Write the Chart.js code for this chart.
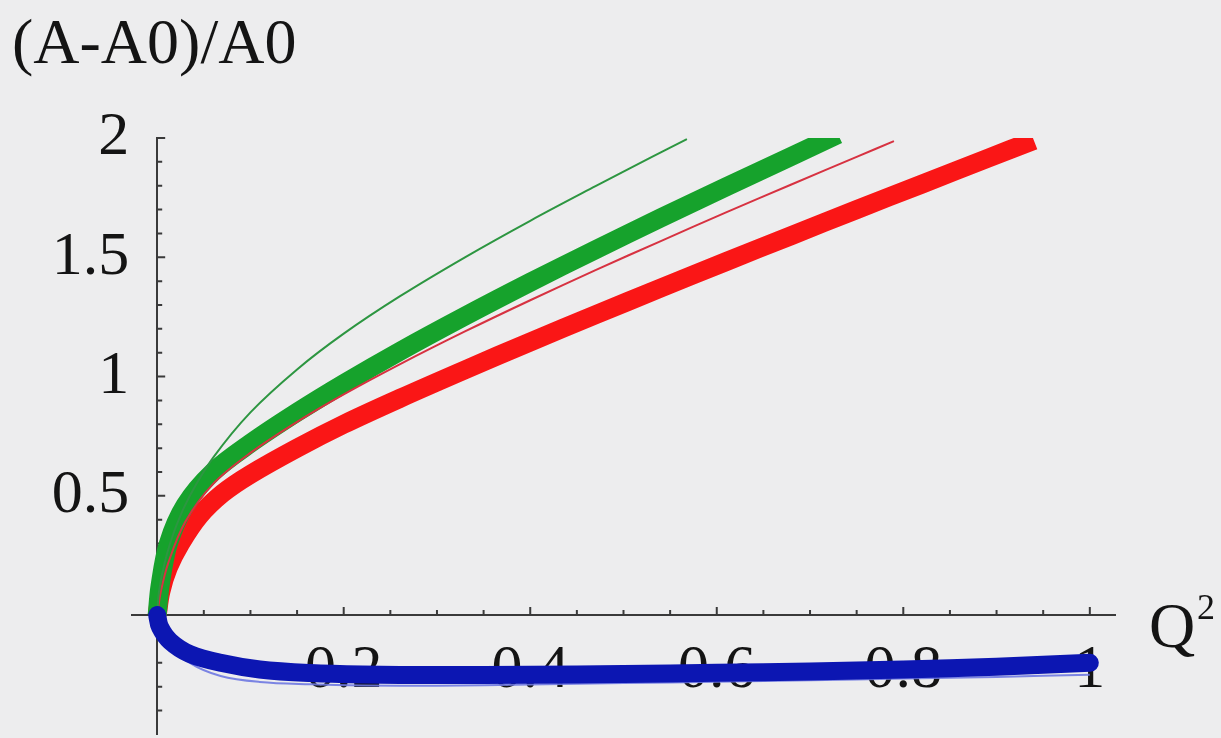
<!DOCTYPE html>
<html>
<head>
<meta charset="utf-8">
<script src="https://cdn.jsdelivr.net/npm/chart.js@4"></script>
<style>
  html, body { margin: 0; padding: 0; background: #ededee; overflow: hidden; }
  #wrap { width: 1221px; height: 738px; }
</style>
</head>
<body>
<div id="wrap"><canvas id="chart" width="1221" height="738"></canvas></div>
<script>
// curves as [Q^2, (A-A0)/A0]
const greenThin = [[0,0],[0.002,0.1],[0.008,0.22],[0.02,0.37],[0.035,0.5],[0.06,0.66],[0.1,0.85],[0.15,1.03],[0.2,1.18],[0.26,1.336],[0.33,1.5],[0.4,1.653],[0.47,1.798],[0.53,1.92],[0.568,1.995]];
const greenThick = [[0,0],[0.003,0.12],[0.012,0.3],[0.03,0.46],[0.06,0.6],[0.1,0.72],[0.15,0.85],[0.2,0.97],[0.26,1.105],[0.33,1.253],[0.4,1.395],[0.47,1.532],[0.54,1.665],[0.61,1.795],[0.68,1.923],[0.73,2.015]];
const redThin = [[0,0],[0.004,0.1],[0.012,0.22],[0.03,0.39],[0.06,0.55],[0.1,0.68],[0.15,0.81],[0.2,0.925],[0.26,1.051],[0.33,1.189],[0.4,1.32],[0.47,1.446],[0.54,1.568],[0.61,1.688],[0.68,1.805],[0.75,1.921],[0.79,1.987]];
const redThick = [[0,0],[0.004,0.1],[0.012,0.2],[0.025,0.3],[0.045,0.415],[0.07,0.51],[0.1,0.59],[0.15,0.7],[0.2,0.8],[0.26,0.908],[0.33,1.028],[0.4,1.145],[0.47,1.259],[0.54,1.371],[0.61,1.482],[0.68,1.591],[0.75,1.7],[0.82,1.807],[0.89,1.914],[0.94,1.99]];
const blueThick = [[0,0],[0.003,-0.05],[0.014,-0.11],[0.035,-0.163],[0.068,-0.2],[0.11,-0.228],[0.164,-0.243],[0.22,-0.249],[0.3,-0.251],[0.4,-0.25],[0.5,-0.247],[0.6,-0.242],[0.7,-0.236],[0.8,-0.228],[0.9,-0.216],[1.0,-0.2]];
const blueThin = [[0,0],[0.01,-0.11],[0.035,-0.2],[0.068,-0.255],[0.11,-0.28],[0.164,-0.29],[0.22,-0.295],[0.3,-0.296],[0.4,-0.291],[0.5,-0.285],[0.6,-0.279],[0.7,-0.273],[0.8,-0.266],[0.9,-0.259],[1.0,-0.25]];

// ticks
const xTicks = [0.05,0.1,0.15,0.2,0.25,0.3,0.35,0.4,0.45,0.5,0.55,0.6,0.65,0.7,0.75,0.8,0.85,0.9,0.95,1.0];
const xTickLabels = {'0.2':'0.2','0.4':'0.4','0.6':'0.6','0.8':'0.8','1':'1'};
const yTicks = [-0.4,-0.3,-0.2,-0.1,0.1,0.2,0.3,0.4,0.5,0.6,0.7,0.8,0.9,1.0,1.1,1.2,1.3,1.4,1.5,1.6,1.7,1.8,1.9,2.0];
const yTickLabels = {'0.5':'0.5','1':'1','1.5':'1.5','2':'2'};

const yTitle = '(A-A0)/A0';
const xTitle = 'Q';
const xTitleSup = '2';

const serif = 'Liberation Serif, Times New Roman, serif';
const ink = '#141414';
const axisColor = '#3a3a3a';

const key = v => String(Math.round(v * 100) / 100);
const pts = arr => arr.map(([x, y]) => ({x, y}));

// Mathematica-style inward ticks
const tickMarks = {
  id: 'tickMarks',
  beforeDatasetsDraw(chart) {
    const {ctx, scales: {x, y}} = chart;
    const x0 = x.getPixelForValue(0), y0 = y.getPixelForValue(0);
    ctx.save();
    ctx.strokeStyle = axisColor;
    ctx.lineWidth = 2;
    ctx.beginPath();
    x.ticks.forEach(t => {
      const px = x.getPixelForValue(t.value);
      const len = xTickLabels[key(t.value)] ? 8 : 5;
      ctx.moveTo(px, y0); ctx.lineTo(px, y0 - len);
    });
    y.ticks.forEach(t => {
      const py = y.getPixelForValue(t.value);
      const len = yTickLabels[key(t.value)] ? 8 : 5;
      ctx.moveTo(x0, py); ctx.lineTo(x0 + len, py);
    });
    ctx.stroke();
    ctx.restore();
  }
};

const axisTitles = {
  id: 'axisTitles',
  afterDraw(chart) {
    const {ctx} = chart;
    ctx.save();
    ctx.fillStyle = ink;
    ctx.textBaseline = 'alphabetic';
    ctx.textAlign = 'left';
    ctx.font = '64px ' + serif;
    ctx.fillText(yTitle, 12, 63);
    ctx.fillText(xTitle, 1149, 647);
    ctx.font = '36px ' + serif;
    ctx.fillText(xTitleSup, 1197, 619);
    ctx.restore();
  }
};

const line = (data, color, width, cap) => ({
  data: pts(data),
  borderColor: color,
  borderWidth: width,
  borderCapStyle: cap || 'butt',
  borderJoinStyle: 'round',
  pointRadius: 0,
  tension: 0.35,
  clip: 0
});

new Chart(document.getElementById('chart'), {
  type: 'line',
  data: {
    datasets: [
      line(blueThick, 'rgb(12,22,178)', 18, 'round'),
      line(blueThin, 'rgba(110,120,225,0.9)', 2),
      line(greenThin, 'rgb(45,150,65)', 2),
      line(redThin, 'rgb(215,50,65)', 2),
      line(greenThick, 'rgb(22,162,44)', 19),
      line(redThick, 'rgb(250,22,22)', 19)
    ]
  },
  options: {
    responsive: false,
    animation: false,
    events: [],
    layout: { padding: { left: 132, right: 106, top: 138, bottom: 0 } },
    plugins: { legend: { display: false }, tooltip: { enabled: false } },
    scales: {
      x: {
        type: 'linear',
        min: -0.027,
        max: 1.027,
        position: { y: 0 },
        afterBuildTicks: s => { s.ticks = xTicks.map(v => ({value: v})); },
        grid: { display: false, drawTicks: false },
        border: { display: true, color: axisColor, width: 2 },
        ticks: {
          autoSkip: false,
          maxRotation: 0,
          padding: 18,
          color: ink,
          font: c => ({ family: serif, size: xTickLabels[key(c.tick ? c.tick.value : 0)] ? 62 : 1 }),
          callback: v => xTickLabels[key(v)] || ''
        }
      },
      y: {
        type: 'linear',
        min: -0.5,
        max: 2,
        position: { x: 0 },
        afterBuildTicks: s => { s.ticks = yTicks.map(v => ({value: v})); },
        grid: { display: false, drawTicks: false },
        border: { display: true, color: axisColor, width: 2 },
        ticks: {
          autoSkip: false,
          color: ink,
          font: c => ({ family: serif, size: yTickLabels[key(c.tick ? c.tick.value : 0)] ? 62 : 1 }),
          callback: v => yTickLabels[key(v)] ? yTickLabels[key(v)] + ' \u2009' : ''
        }
      }
    }
  },
  plugins: [tickMarks, axisTitles]
});
</script>
</body>
</html>
